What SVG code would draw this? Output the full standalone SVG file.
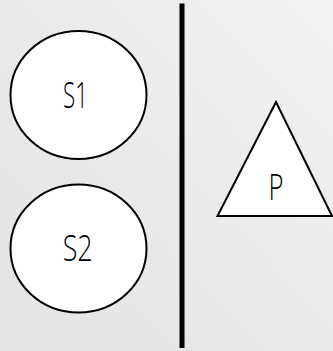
<svg xmlns="http://www.w3.org/2000/svg" width="333" height="351" viewBox="0 0 333 351">
<defs>
<linearGradient id="bg" x1="1" y1="0" x2="0" y2="1">
<stop offset="0" stop-color="#f1f2f4"/>
<stop offset="1" stop-color="#e2e3e5"/>
</linearGradient>
<style>
.shape{fill:#ffffff;stroke:#000000;stroke-width:2}
.lbl{font-family:"Open Sans","Noto Sans",sans-serif;font-weight:300;font-size:36px;fill:#000000;text-anchor:middle}
</style>
</defs>
<rect width="333" height="351" fill="url(#bg)"/>
<g id="connectors">
<line x1="182" y1="3.5" x2="182" y2="348" stroke="#000000" stroke-width="5"/>
</g>
<g id="S1">
<ellipse class="shape" cx="78.5" cy="95" rx="68" ry="64"/>
<text class="lbl" x="75.5" y="107.7" textLength="25" lengthAdjust="spacingAndGlyphs">S1</text>
</g>
<g id="S2">
<ellipse class="shape" cx="78.5" cy="248.5" rx="68" ry="64"/>
<text class="lbl" x="77.7" y="260.7" textLength="30" lengthAdjust="spacingAndGlyphs">S2</text>
</g>
<g id="P">
<polygon class="shape" points="276,102 217.5,216 332,216"/>
<text class="lbl" x="276" y="200" textLength="15" lengthAdjust="spacingAndGlyphs">P</text>
</g>
</svg>
